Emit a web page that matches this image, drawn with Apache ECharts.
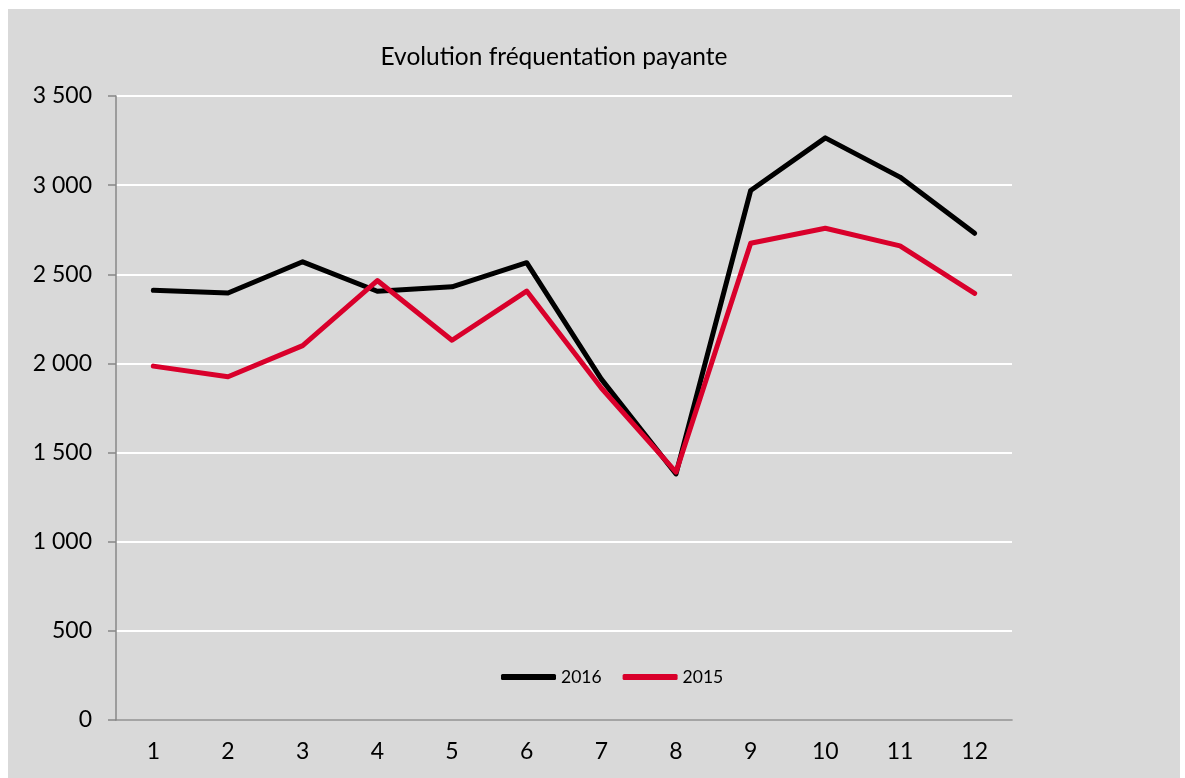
<!DOCTYPE html>
<html>
  <head>
    <meta charset="utf-8" />
    <script src="https://cdn.jsdelivr.net/npm/echarts@6/dist/echarts.min.js"></script>
    <style>
      html, body { margin: 0; padding: 0; width: 100%; height: 100%; background: #fff; overflow: hidden; }
      #main { position: absolute; left: 8px; top: 9px; width: 1172px; height: 769px; background: #d9d9d9; }
    </style>
  </head>
  <body>
    <div id="main"></div>
    <script type="text/javascript">
      // données
      var mois = ['1', '2', '3', '4', '5', '6', '7', '8', '9', '10', '11', '12'];
      var serie2016 = [2410, 2395, 2570, 2405, 2430, 2565, 1912, 1380, 2970, 3265, 3045, 2730];
      var serie2015 = [1985, 1925, 2100, 2465, 2130, 2406, 1862, 1390, 2674, 2758, 2659, 2393];

      var police = 'Lato, "DejaVu Sans", sans-serif';

      var myChart = echarts.init(document.getElementById('main'));

      var option = {
        backgroundColor: '#d9d9d9',
        animation: false,
        title: {
          text: 'Evolution fréquentation payante',
          left: 546,
          top: 36,
          padding: 0,
          textAlign: 'center',
          textStyle: { fontFamily: police, fontSize: 24.5, fontWeight: 'normal', color: '#000' }
        },
        legend: {
          left: 493,
          top: 659,
          padding: 0,
          itemWidth: 55,
          itemHeight: 6,
          itemGap: 21,
          itemTextGap: 4,
          icon: 'roundRect',
          textStyle: { fontFamily: police, fontSize: 17.5, color: '#000' },
          data: ['2016', '2015']
        },
        grid: { left: 108, right: 168, top: 87, bottom: 58 },
        xAxis: {
          type: 'category',
          data: mois,
          boundaryGap: true,
          axisLine: { lineStyle: { color: '#878787', width: 1.5 } },
          axisTick: { show: false },
          axisLabel: { fontFamily: police, fontSize: 23, color: '#000', margin: 20 }
        },
        yAxis: {
          type: 'value',
          min: 0,
          max: 3500,
          interval: 500,
          axisLine: { show: true, lineStyle: { color: '#878787', width: 1.5 } },
          axisTick: { show: true, length: 8, lineStyle: { color: '#878787', width: 1.5 } },
          splitLine: { lineStyle: { color: '#ffffff', width: 2 } },
          axisLabel: {
            fontFamily: police, fontSize: 23, color: '#000', margin: 24,
            formatter: function (v) {
              return String(v).replace(/\B(?=(\d{3})+(?!\d))/g, ' ');
            }
          }
        },
        series: [
          {
            name: '2016',
            type: 'line',
            data: serie2016,
            symbol: 'none',
            color: '#000000',
            lineStyle: { width: 5, color: '#000000', cap: 'round', join: 'round' }
          },
          {
            name: '2015',
            type: 'line',
            data: serie2015,
            symbol: 'none',
            color: '#d9002b',
            lineStyle: { width: 5, color: '#d9002b', cap: 'round', join: 'round' }
          }
        ]
      };

      myChart.setOption(option);
    </script>
  </body>
</html>
